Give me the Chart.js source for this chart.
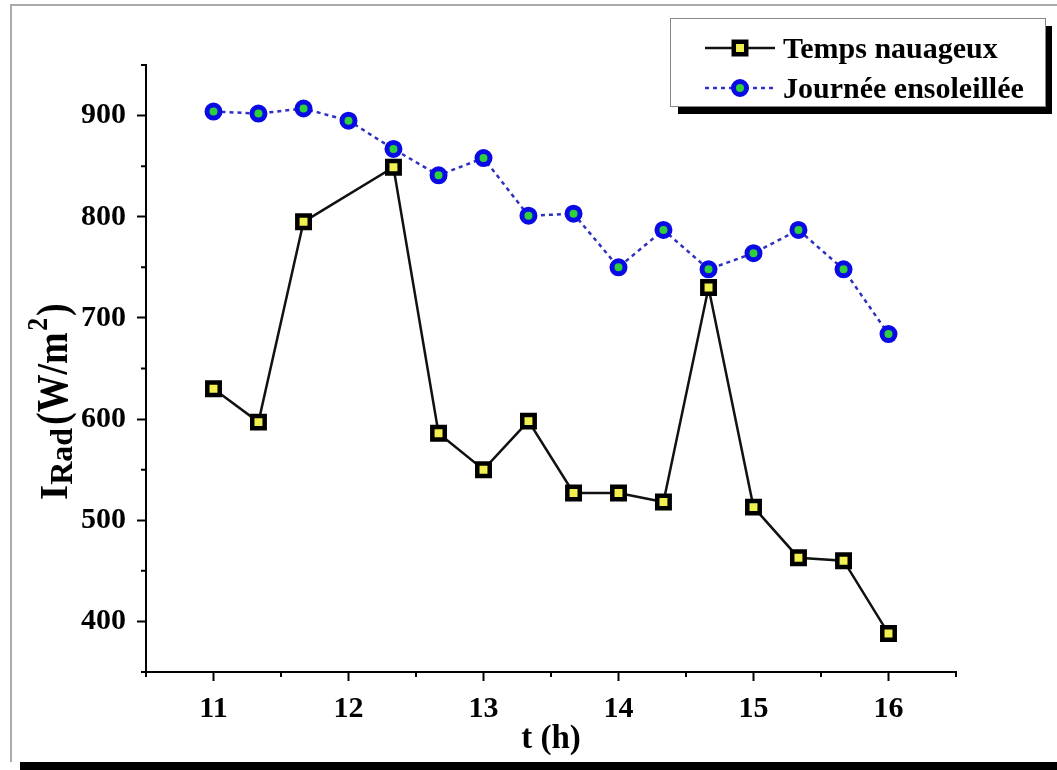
<!DOCTYPE html>
<html>
<head>
<meta charset="utf-8">
<script src="https://cdn.jsdelivr.net/npm/chart.js@4.4.0/dist/chart.umd.min.js"></script>
<style>
  html, body { margin: 0; padding: 0; background: #fff; overflow: hidden; }
  #frame {
    position: absolute; left: 10px; top: 4px; width: 1100px; height: 756px;
    border-left: 2px solid #aaa; border-top: 2px solid #aaa;
    box-shadow: 10px 9px 0 #000; background: #fff;
  }
  #myChart { position: absolute; left: 0; top: 0; }
</style>
</head>
<body>
<div id="frame"></div>
<canvas id="myChart" width="1057" height="770"></canvas>
<script>
// time of day (h), one reading every 20 minutes
var sunnyHours = [11, 11.333, 11.667, 12, 12.333, 12.667, 13, 13.333, 13.667, 14, 14.333, 14.667, 15, 15.333, 15.667, 16];
var sunnyValues = [904, 902, 907, 895, 867, 841, 858, 801, 803, 750, 787, 748, 764, 787, 748, 684];

// cloudy day has no reading at 12:00
var cloudyHours = [11, 11.333, 11.667, 12.333, 12.667, 13, 13.333, 13.667, 14, 14.333, 14.667, 15, 15.333, 15.667, 16];
var cloudyValues = [630, 597, 795, 849, 586, 550, 598, 527, 527, 518, 730, 513, 463, 460, 388];

var seriesNames = ["Temps nauageux", "Journée ensoleillée"];
var xTicks = [11, 12, 13, 14, 15, 16];
var xMinorTicks = [10.5, 11.5, 12.5, 13.5, 14.5, 15.5, 16.5];
var yTicks = [400, 500, 600, 700, 800, 900];
var yMinorTicks = [350, 450, 550, 650, 750, 850, 950];

var serif = "'Liberation Serif', 'Times New Roman', serif";

function toPoints(xs, ys) {
  return xs.map(function (x, i) { return { x: x, y: ys[i] }; });
}

// short ticks at the half steps
var minorTicks = {
  id: "minorTicks",
  afterDraw: function (chart) {
    var ctx = chart.ctx;
    var xs = chart.scales.x, ys = chart.scales.y;
    ctx.save();
    ctx.strokeStyle = "#000";
    ctx.lineWidth = 2;
    ctx.beginPath();
    xMinorTicks.forEach(function (v) {
      var px = xs.getPixelForValue(v);
      ctx.moveTo(px, ys.bottom);
      ctx.lineTo(px, ys.bottom + 5);
    });
    yMinorTicks.forEach(function (v) {
      var py = ys.getPixelForValue(v);
      ctx.moveTo(xs.left, py);
      ctx.lineTo(xs.left - 5, py);
    });
    ctx.stroke();
    ctx.restore();
  }
};

// I_Rad (W/m^2) with sub and superscript
var yTitle = {
  id: "yTitle",
  afterDraw: function (chart) {
    var ctx = chart.ctx;
    var squeeze = 0.86;
    ctx.save();
    ctx.translate(67, 500);
    ctx.rotate(-Math.PI / 2);
    ctx.fillStyle = "#000";
    ctx.textAlign = "left";
    ctx.textBaseline = "alphabetic";
    var x = 0;
    ctx.font = "bold 39px " + serif;
    ctx.fillText("I", x, 0);
    x += ctx.measureText("I").width;
    ctx.font = "bold 32px " + serif;
    ctx.fillText("Rad", x, 5);
    x += ctx.measureText("Rad").width + 3;

    ctx.save();
    ctx.translate(x, 0);
    ctx.scale(squeeze, 1);
    var sx = 0;
    ctx.font = "bold 44px " + serif;
    ctx.fillText("(W/m", sx, 0);
    sx += ctx.measureText("(W/m").width + 2;
    ctx.font = "bold 30px " + serif;
    ctx.fillText("2", sx, -20);
    sx += ctx.measureText("2").width + 2;
    ctx.font = "bold 44px " + serif;
    ctx.fillText(")", sx, 0);
    ctx.restore();
    ctx.restore();
  }
};

// boxed legend with a drop shadow, top right
var boxLegend = {
  id: "boxLegend",
  afterDraw: function (chart) {
    var ctx = chart.ctx;
    ctx.save();
    ctx.fillStyle = "#000";
    ctx.fillRect(678, 26, 374, 88);
    ctx.fillStyle = "#fff";
    ctx.fillRect(670, 18, 375, 88);
    ctx.strokeStyle = "#888";
    ctx.lineWidth = 1;
    ctx.strokeRect(670.5, 18.5, 375, 88);

    var rows = [48, 88];
    chart.data.datasets.forEach(function (ds, i) {
      var y = rows[i];
      ctx.save();
      ctx.strokeStyle = ds.borderColor;
      ctx.lineWidth = ds.borderWidth;
      ctx.setLineDash(ds.borderDash || []);
      ctx.beginPath();
      ctx.moveTo(705, y);
      ctx.lineTo(775, y);
      ctx.stroke();
      ctx.restore();
      ctx.fillStyle = ds.pointBackgroundColor;
      ctx.strokeStyle = ds.pointBorderColor;
      ctx.lineWidth = ds.pointBorderWidth;
      Chart.helpers.drawPoint(ctx, {
        pointStyle: ds.pointStyle,
        radius: ds.pointRadius,
        rotation: 0,
        borderWidth: ds.pointBorderWidth
      }, 740, y);
      ctx.fillStyle = "#000";
      ctx.font = "bold 30px " + serif;
      ctx.textBaseline = "alphabetic";
      ctx.fillText(ds.label, 783, y + 10);
    });
    ctx.restore();
  }
};

var ctx = document.getElementById("myChart").getContext("2d");
var myChart = new Chart(ctx, {
  type: "line",
  data: {
    datasets: [
      {
        label: seriesNames[0],
        data: toPoints(cloudyHours, cloudyValues),
        borderColor: "#111",
        borderWidth: 2.5,
        pointStyle: "rect",
        pointRadius: 8.8,
        pointBorderWidth: 4.5,
        pointBorderColor: "#000",
        pointBackgroundColor: "#f2f050",
        tension: 0
      },
      {
        label: seriesNames[1],
        data: toPoints(sunnyHours, sunnyValues),
        borderColor: "#3030c0",
        borderWidth: 2.5,
        borderDash: [4, 4],
        pointStyle: "circle",
        pointRadius: 6.5,
        pointBorderWidth: 5,
        pointBorderColor: "#0a0ae6",
        pointBackgroundColor: "#2ed13a",
        tension: 0
      }
    ]
  },
  options: {
    responsive: false,
    animation: false,
    layout: { padding: { top: 65, right: 101, bottom: 0, left: 0 } },
    plugins: {
      legend: { display: false },
      tooltip: { enabled: false }
    },
    scales: {
      x: {
        type: "linear",
        min: 10.5,
        max: 16.5,
        afterBuildTicks: function (scale) {
          scale.ticks = xTicks.map(function (v) { return { value: v }; });
        },
        afterFit: function (scale) { scale.height = 98; },
        grid: { drawOnChartArea: false, tickLength: 9, tickWidth: 2, tickColor: "#000" },
        border: { color: "#000", width: 2 },
        ticks: {
          color: "#000",
          padding: 10,
          font: { family: serif, size: 30, weight: "bold" }
        },
        title: {
          display: true,
          text: "t (h)",
          color: "#000",
          padding: { top: 0, bottom: 11 },
          font: { family: serif, size: 33, weight: "bold" }
        }
      },
      y: {
        min: 350,
        max: 950,
        afterBuildTicks: function (scale) {
          scale.ticks = yTicks.map(function (v) { return { value: v }; });
        },
        afterFit: function (scale) { scale.width = 146; },
        grid: { drawOnChartArea: false, tickLength: 9, tickWidth: 2, tickColor: "#000" },
        border: { color: "#000", width: 2 },
        ticks: {
          color: "#000",
          padding: 11,
          font: { family: serif, size: 30, weight: "bold" }
        }
      }
    }
  },
  plugins: [minorTicks, yTitle, boxLegend]
});
</script>
</body>
</html>
